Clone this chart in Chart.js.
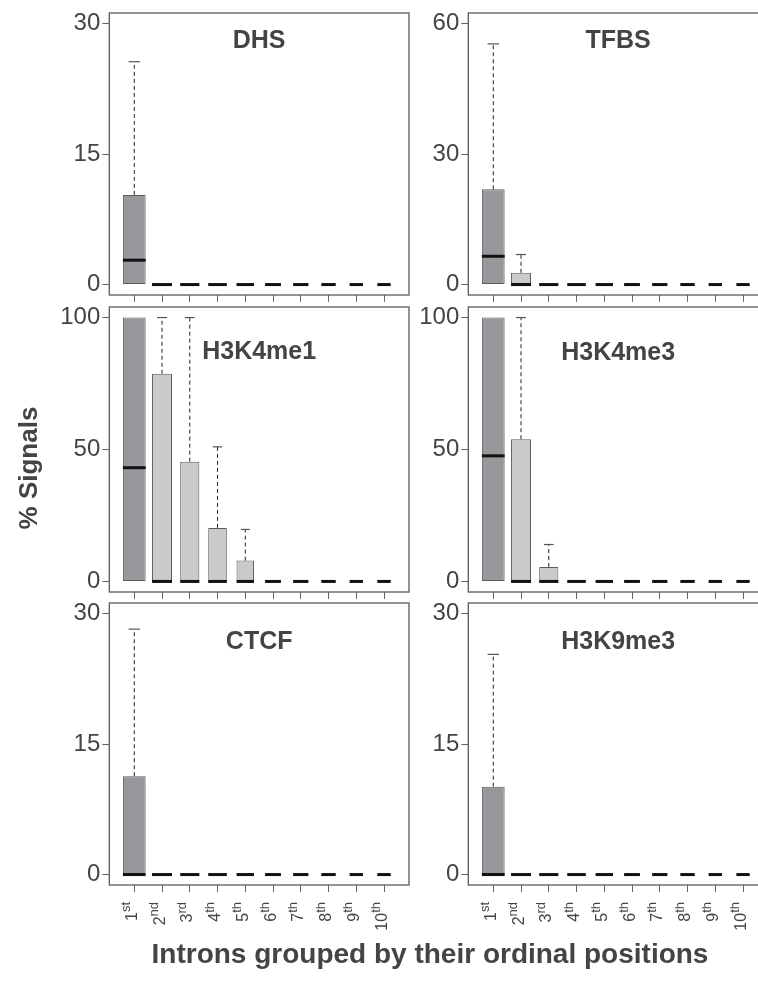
<!DOCTYPE html>
<html>
<head>
<meta charset="utf-8">
<script src="https://cdn.jsdelivr.net/npm/chart.js@4.4.1/dist/chart.umd.min.js"></script>
<style>
    html, body { margin: 0; padding: 0; background: #fff; overflow: hidden; width: 758px; height: 986px; }
    #wrap { position: absolute; left: 0; top: 0; width: 758px; height: 986px; overflow: hidden; }
    canvas { position: absolute; }
    #ylab {
        position: absolute; left: 28px; top: 468px;
        transform: translate(-50%, -50%) rotate(-90deg);
        font: bold 26px "Liberation Sans", Arial, sans-serif; color: #444; white-space: nowrap;
    }
    #xlab {
        position: absolute; left: 430px; top: 954px;
        transform: translate(-50%, -50%);
        font: bold 28px "Liberation Sans", Arial, sans-serif; color: #444; white-space: nowrap;
    }
</style>
</head>
<body>
<div id="wrap">
<canvas id="dhs"></canvas>
<canvas id="tfbs"></canvas>
<canvas id="me1"></canvas>
<canvas id="me3"></canvas>
<canvas id="ctcf"></canvas>
<canvas id="k9"></canvas>
<div id="ylab">% Signals</div>
<div id="xlab">Introns grouped by their ordinal positions</div>
</div>

<script>
// intron ordinal positions (tick labels)
const ordinals = ['1', '2', '3', '4', '5', '6', '7', '8', '9', '10'];
const suffixes = ['st', 'nd', 'rd', 'th', 'th', 'th', 'th', 'th', 'th', 'th'];
// relative box widths (varwidth: sqrt of group size)
const relWidths = [0.82, 0.72, 0.69, 0.67, 0.63, 0.57, 0.55, 0.52, 0.48, 0.48];

// lower quartile is zero everywhere
const q1 = [0, 0, 0, 0, 0, 0, 0, 0, 0, 0];

const dhsQ3 = [10.3, 0, 0, 0, 0, 0, 0, 0, 0, 0];
const dhsMedian = [2.8, 0, 0, 0, 0, 0, 0, 0, 0, 0];
const dhsMax = [25.6, 0, 0, 0, 0, 0, 0, 0, 0, 0];

const tfbsQ3 = [21.9, 2.7, 0, 0, 0, 0, 0, 0, 0, 0];
const tfbsMedian = [6.5, 0, 0, 0, 0, 0, 0, 0, 0, 0];
const tfbsMax = [55.3, 6.9, 0, 0, 0, 0, 0, 0, 0, 0];

const me1Q3 = [100, 78.7, 45.4, 20.3, 7.9, 0, 0, 0, 0, 0];
const me1Median = [43.1, 0, 0, 0, 0, 0, 0, 0, 0, 0];
const me1Max = [100, 100, 100, 51.0, 19.7, 0, 0, 0, 0, 0];

const me3Q3 = [100, 53.9, 5.5, 0, 0, 0, 0, 0, 0, 0];
const me3Median = [47.6, 0, 0, 0, 0, 0, 0, 0, 0, 0];
const me3Max = [100, 100, 14.0, 0, 0, 0, 0, 0, 0, 0];

const ctcfQ3 = [11.3, 0, 0, 0, 0, 0, 0, 0, 0, 0];
const ctcfMedian = [0, 0, 0, 0, 0, 0, 0, 0, 0, 0];
const ctcfMax = [28.2, 0, 0, 0, 0, 0, 0, 0, 0, 0];

const k9Q3 = [10.1, 0, 0, 0, 0, 0, 0, 0, 0, 0];
const k9Median = [0, 0, 0, 0, 0, 0, 0, 0, 0, 0];
const k9Max = [25.3, 0, 0, 0, 0, 0, 0, 0, 0, 0];

const ticks30 = [0, 15, 30];
const ticks60 = [0, 30, 60];
const ticks100 = [0, 50, 100];

const FONT = '"Liberation Sans", Arial, sans-serif';
const darkFill = '#97989c';
const lightFill = '#c9cacc';

const panels = [
    { id: 'dhs', title: 'DHS', q3: dhsQ3, med: dhsMedian, max: dhsMax, yTicks: ticks30,
      left: 55, top: 0, w: 365, h: 304, yw: 54.3, padTop: 13, padRight: 11, xh: 9, titleDy: 28, tickLabels: false },
    { id: 'tfbs', title: 'TFBS', q3: tfbsQ3, med: tfbsMedian, max: tfbsMax, yTicks: ticks60,
      left: 410, top: 0, w: 370, h: 304, yw: 58.3, padTop: 13, padRight: 12, xh: 9, titleDy: 28, tickLabels: false },
    { id: 'me1', title: 'H3K4me1', q3: me1Q3, med: me1Median, max: me1Max, yTicks: ticks100,
      left: 55, top: 300, w: 365, h: 304, yw: 54.3, padTop: 7, padRight: 11, xh: 12, titleDy: 45, tickLabels: false },
    { id: 'me3', title: 'H3K4me3', q3: me3Q3, med: me3Median, max: me3Max, yTicks: ticks100,
      left: 410, top: 300, w: 370, h: 304, yw: 58.3, padTop: 7, padRight: 12, xh: 12, titleDy: 46, tickLabels: false },
    { id: 'ctcf', title: 'CTCF', q3: ctcfQ3, med: ctcfMedian, max: ctcfMax, yTicks: ticks30,
      left: 55, top: 596, w: 365, h: 390, yw: 54.3, padTop: 7, padRight: 11, xh: 101, titleDy: 39, tickLabels: true },
    { id: 'k9', title: 'H3K9me3', q3: k9Q3, med: k9Median, max: k9Max, yTicks: ticks30,
      left: 410, top: 596, w: 370, h: 390, yw: 58.3, padTop: 7, padRight: 12, xh: 101, titleDy: 39, tickLabels: true }
];

// whiskers, staples, medians, frame, title and ordinal tick labels
const boxExtras = {
    id: 'boxExtras',
    afterDatasetsDraw(chart, args, opts) {
        const ctx = chart.ctx;
        const xs = chart.scales.x;
        const ys = chart.scales.y;
        const area = chart.chartArea;

        ctx.save();
        ordinals.forEach((o, i) => {
            const bar = chart.getDatasetMeta(i).data[0];
            const x = xs.getPixelForValue(i + 1);
            const w = bar.width;
            if (opts.max[i] > opts.q3[i]) {
                ctx.strokeStyle = '#222';
                ctx.lineWidth = 1;
                ctx.setLineDash([4, 3]);
                ctx.beginPath();
                ctx.moveTo(x, ys.getPixelForValue(opts.q3[i]));
                ctx.lineTo(x, ys.getPixelForValue(opts.max[i]));
                ctx.stroke();
                ctx.setLineDash([]);
                ctx.strokeStyle = '#555';
                ctx.lineWidth = 1.2;
                ctx.beginPath();
                ctx.moveTo(x - w / 4, ys.getPixelForValue(opts.max[i]));
                ctx.lineTo(x + w / 4, ys.getPixelForValue(opts.max[i]));
                ctx.stroke();
            }
            ctx.strokeStyle = '#111';
            ctx.lineWidth = 3;
            ctx.beginPath();
            ctx.moveTo(x - w / 2, ys.getPixelForValue(opts.med[i]));
            ctx.lineTo(x + w / 2, ys.getPixelForValue(opts.med[i]));
            ctx.stroke();
        });

        ctx.strokeStyle = '#5a5a5a';
        ctx.lineWidth = 1.3;
        ctx.strokeRect(area.left, area.top, area.right - area.left, area.bottom - area.top);

        ctx.fillStyle = '#444';
        ctx.font = 'bold 25px ' + FONT;
        ctx.textAlign = 'center';
        ctx.textBaseline = 'middle';
        ctx.fillText(opts.title, (area.left + area.right) / 2, area.top + opts.titleDy);

        if (opts.tickLabels) {
            const top = area.bottom + 17;
            ordinals.forEach((o, i) => {
                const x = xs.getPixelForValue(i + 1);
                ctx.save();
                ctx.translate(x, top);
                ctx.rotate(-Math.PI / 2);
                ctx.textAlign = 'left';
                ctx.textBaseline = 'alphabetic';
                ctx.font = '13px ' + FONT;
                const sw = ctx.measureText(suffixes[i]).width;
                ctx.fillText(suffixes[i], -sw, -4);
                ctx.font = '16px ' + FONT;
                const nw = ctx.measureText(o).width;
                ctx.fillText(o, -sw - nw, 2.5);
                ctx.restore();
            });
        }
        ctx.restore();
    }
};

panels.forEach(p => {
    const canvas = document.getElementById(p.id);
    canvas.width = p.w;
    canvas.height = p.h;
    canvas.style.left = p.left + 'px';
    canvas.style.top = p.top + 'px';
    canvas.style.width = p.w + 'px';
    canvas.style.height = p.h + 'px';

    const datasets = ordinals.map((o, i) => ({
        data: [{ x: i + 1, y: [q1[i], p.q3[i]] }],
        backgroundColor: i === 0 ? darkFill : lightFill,
        borderColor: '#5c5c5c',
        borderWidth: 1,
        borderSkipped: false,
        grouped: false,
        categoryPercentage: 1,
        barPercentage: relWidths[i]
    }));

    const top = p.yTicks[p.yTicks.length - 1];

    new Chart(canvas, {
        type: 'bar',
        data: { datasets: datasets },
        options: {
            responsive: false,
            animation: false,
            events: [],
            layout: { padding: { top: p.padTop, right: p.padRight, left: 0, bottom: 0 } },
            plugins: {
                legend: { display: false },
                tooltip: { enabled: false },
                boxExtras: { title: p.title, q3: p.q3, med: p.med, max: p.max, titleDy: p.titleDy, tickLabels: p.tickLabels }
            },
            scales: {
                x: {
                    type: 'linear',
                    offset: false,
                    min: 0.1,
                    max: 10.9,
                    afterBuildTicks: s => { s.ticks = ordinals.map((o, i) => ({ value: i + 1 })); },
                    afterFit: s => { s.height = p.xh; s.paddingLeft = 0; s.paddingRight = 0; },
                    ticks: { display: false },
                    grid: { offset: false, drawOnChartArea: false, drawTicks: true, tickLength: 7, tickColor: '#666', lineWidth: 1 },
                    border: { display: false }
                },
                y: {
                    min: -0.04 * top,
                    max: 1.04 * top,
                    afterBuildTicks: s => { s.ticks = p.yTicks.map(v => ({ value: v })); },
                    afterFit: s => { s.width = p.yw; s.paddingTop = 0; s.paddingBottom = 0; },
                    ticks: { color: '#444', font: { family: FONT, size: 24 }, padding: 2 },
                    grid: { drawOnChartArea: false, drawTicks: true, tickLength: 7, tickColor: '#666', lineWidth: 1 },
                    border: { display: false }
                }
            }
        },
        plugins: [boxExtras]
    });
});
</script>
</body>
</html>
